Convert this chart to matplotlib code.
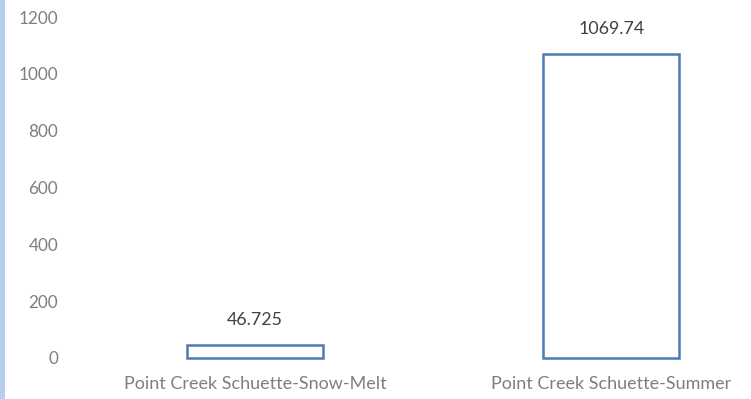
import matplotlib
matplotlib.use("Agg")
import matplotlib.pyplot as plt
from matplotlib.patches import Rectangle

plt.rcParams["font.family"] = ["Lato", "DejaVu Sans"]

categories = ["Point Creek Schuette-Snow-Melt", "Point Creek Schuette-Summer"]
values = [46.725, 1069.74]
value_labels = ["46.725", "1069.74"]
yticks = [0, 200, 400, 600, 800, 1000, 1200]

W, H = 751, 399
fig = plt.figure(figsize=(W / 100, H / 100), dpi=100)
ax = fig.add_axes([70 / W, 41 / H, 1 - 70 / W, 1 - 41 / H])

x = range(len(categories))
bars = ax.bar(x, values, width=0.38, facecolor="white",
              edgecolor="#4a7bb7", linewidth=1.8, clip_on=False)
for b, lab in zip(bars, value_labels):
    ax.annotate(lab, (b.get_x() + b.get_width() / 2, b.get_height()),
                xytext=(0, 18), textcoords="offset points",
                ha="center", va="center", fontsize=12.8, color="#404040")

ax.set_xlim(-0.52, 1.393)
ax.set_ylim(0, 1260)
ax.set_yticks(yticks)
ax.set_xticks(list(x))
ax.set_xticklabels(categories)
ax.tick_params(axis="y", length=0, pad=8.5, labelsize=12.3, labelcolor="#7f7f7f")
ax.tick_params(axis="x", length=0, pad=13, labelsize=13, labelcolor="#7f7f7f")
for s in ax.spines.values():
    s.set_visible(False)

# thin accent strip down the left edge
fig.patches.append(Rectangle((0, 0), 5 / W, 1, transform=fig.transFigure,
                             facecolor="#b4cff0", edgecolor="none"))

fig.savefig("out.png", dpi=100, facecolor="white")
